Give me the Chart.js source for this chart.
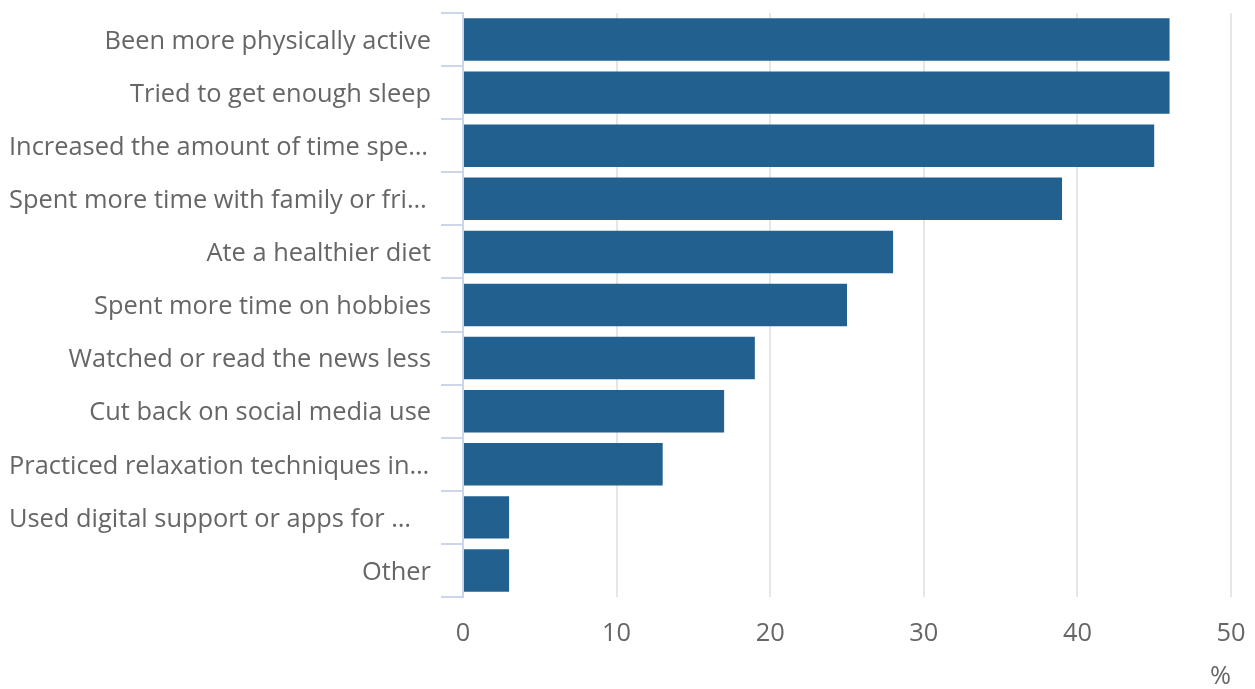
<!DOCTYPE html>
<html>
<head>
<meta charset="utf-8">
<script src="https://cdn.jsdelivr.net/npm/chart.js@4"></script>
<style>
  html, body { margin: 0; padding: 0; background: #fff; }
  #wrap { width: 1255px; height: 689px; position: relative; }
</style>
</head>
<body>
<div id="wrap"><canvas id="chart"></canvas></div>
<script>
// categories and values
const categories = [
    'Been more physically active',
    'Tried to get enough sleep',
    'Increased the amount of time spe\u2026',
    'Spent more time with family or fri\u2026',
    'Ate a healthier diet',
    'Spent more time on hobbies',
    'Watched or read the news less',
    'Cut back on social media use',
    'Practiced relaxation techniques in\u2026',
    'Used digital support or apps for \u2026',
    'Other'
];
const values = [46, 46, 45, 39, 28, 25, 19, 17, 13, 3, 3];
const xTicks = [0, 10, 20, 30, 40, 50];

const FONT = "'Open Sans', sans-serif";
const labelFont = { family: FONT, size: 25.4 };

// category labels: right aligned, truncated ones start at the left edge
const categoryLabels = {
    id: 'categoryLabels',
    afterDraw(chart) {
        const y = chart.scales.y;
        const c = chart.ctx;
        c.save();
        c.font = '25.4px ' + FONT;
        c.fillStyle = '#666666';
        c.textBaseline = 'middle';
        categories.forEach((label, i) => {
            const py = y.getPixelForTick(i) + 2;
            if (label.endsWith('\u2026')) {
                c.textAlign = 'left';
                c.fillText(label, 9, py);
            } else {
                c.textAlign = 'right';
                c.fillText(label, y.right - 32, py);
            }
        });
        c.restore();
    }
};

const ctx = document.getElementById('chart').getContext('2d');
const chart = new Chart(ctx, {
    type: 'bar',
    data: {
        labels: categories,
        datasets: [{
            data: values,
            backgroundColor: '#22608f',
            borderWidth: 0,
            categoryPercentage: 0.8,
            barPercentage: 1
        }]
    },
    options: {
        indexAxis: 'y',
        responsive: true,
        maintainAspectRatio: false,
        animation: false,
        layout: { padding: { top: 13, right: 24, bottom: 0, left: 0 } },
        plugins: {
            legend: { display: false },
            tooltip: { enabled: false }
        },
        scales: {
            x: {
                min: 0,
                max: 50,
                afterBuildTicks: axis => { axis.ticks = xTicks.map(v => ({ value: v })); },
                afterFit: axis => {
                    axis.height = 92;
                    axis.paddingLeft = 0;
                    axis.paddingRight = 0;
                },
                grid: { color: '#e6e6e6', lineWidth: 2, drawTicks: false },
                border: { display: false },
                ticks: { color: '#666666', font: labelFont, padding: 22 },
                title: {
                    display: true,
                    text: '%',
                    align: 'end',
                    color: '#666666',
                    font: { family: FONT, size: 25.4, lineHeight: 1 },
                    padding: { top: 0, bottom: 0 }
                }
            },
            y: {
                afterFit: axis => {
                    axis.width = 463;
                    axis.paddingTop = 0;
                    axis.paddingBottom = 0;
                },
                grid: { drawOnChartArea: false, color: '#ccd6eb', lineWidth: 2, tickLength: 22 },
                border: { color: '#ccd6eb', width: 2 },
                ticks: { display: false, autoSkip: false }
            }
        }
    },
    plugins: [categoryLabels]
});
</script>
</body>
</html>
